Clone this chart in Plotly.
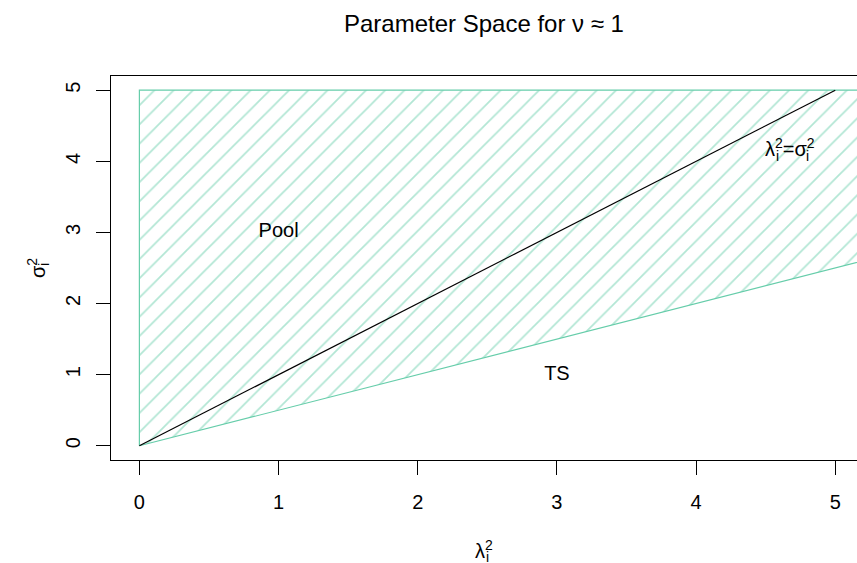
import plotly.graph_objects as go

# ---- data ----
region_x = [0, 0, 6, 6, 0]          # hatched "Pool" region (lambda^2)
region_y = [0, 5, 5, 3, 0]          # sigma^2 >= lambda^2 / 2
diag_x = [0, 5]
diag_y = [0, 5]
labels = ["Pool", "TS"]
label_x = [1, 3]
label_y = [3, 1]
eq_x = 4.48
eq_y = 4.2
tick_vals = [0, 1, 2, 3, 4, 5]
tick_text = ["0", "1", "2", "3", "4", "5"]

GREEN = "#66CDAA"
FONT = "Liberation Sans, Arial, sans-serif"
FS = 20

fig = go.Figure()

fig.add_trace(go.Scatter(
    x=region_x, y=region_y, mode="lines", fill="toself",
    fillcolor="rgba(0,0,0,0)",
    fillpattern=dict(shape="/", fgcolor=GREEN, bgcolor="rgba(0,0,0,0)",
                     size=13.6, solidity=0.13),
    line=dict(color=GREEN, width=1.2), hoverinfo="skip", showlegend=False))

fig.add_trace(go.Scatter(
    x=diag_x, y=diag_y, mode="lines", line=dict(color="black", width=1.2),
    showlegend=False, hoverinfo="skip"))

fig.add_trace(go.Scatter(
    x=label_x, y=label_y, mode="text", text=labels,
    textfont=dict(family=FONT, size=FS, color="black"),
    showlegend=False, hoverinfo="skip"))

ann = []
# equation label  λ_i^2 = σ_i^2 (stacked sub/sup)
ann.append(dict(x=eq_x, y=eq_y, xref="x", yref="y", xanchor="left", yanchor="middle",
                text="λ<sup>2</sup>=σ<sup>2</sup>", showarrow=False,
                font=dict(family=FONT, size=FS, color="black")))
ann.append(dict(x=eq_x, y=eq_y, xref="x", yref="y", xanchor="left", yanchor="middle",
                text="i", showarrow=False, xshift=11, yshift=-9,
                font=dict(family=FONT, size=14, color="black")))
ann.append(dict(x=eq_x, y=eq_y, xref="x", yref="y", xanchor="left", yanchor="middle",
                text="i", showarrow=False, xshift=41, yshift=-9,
                font=dict(family=FONT, size=14, color="black")))

# title
ann.append(dict(x=0.5, y=1, xref="paper", yref="paper", xanchor="center", yanchor="middle",
                yshift=53, text="Parameter Space for ν ≈ 1", showarrow=False,
                font=dict(family=FONT, size=24, color="black")))
# x axis title
ann.append(dict(x=0.5, y=0, xref="paper", yref="paper", xanchor="center", yanchor="middle",
                yshift=-89, text="λ<sup>2</sup>", showarrow=False,
                font=dict(family=FONT, size=FS, color="black")))
ann.append(dict(x=0.5, y=0, xref="paper", yref="paper", xanchor="center", yanchor="middle",
                yshift=-97, xshift=3, text="i", showarrow=False,
                font=dict(family=FONT, size=14, color="black")))
# y axis title (rotated)
ann.append(dict(x=0, y=0.5, xref="paper", yref="paper", xanchor="center", yanchor="middle",
                xshift=-75, text="σ<sup>2</sup>", textangle=-90, showarrow=False,
                font=dict(family=FONT, size=FS, color="black")))
ann.append(dict(x=0, y=0.5, xref="paper", yref="paper", xanchor="center", yanchor="middle",
                xshift=-67, yshift=3, text="i", textangle=-90, showarrow=False,
                font=dict(family=FONT, size=14, color="black")))

fig.update_layout(
    width=857, height=563,
    margin=dict(l=111, r=0, t=76, b=103),
    plot_bgcolor="white", paper_bgcolor="white",
    annotations=ann,
    font=dict(family=FONT, size=FS, color="black"),
    xaxis=dict(range=[-0.204, 5.156], tickvals=tick_vals, ticktext=tick_text,
               ticks="outside", ticklen=14, tickcolor="black", tickwidth=1,
               showline=True, mirror=True, linecolor="black", linewidth=1,
               showgrid=False, zeroline=False, ticklabelstandoff=10,
               tickfont=dict(family=FONT, size=FS, color="black")),
    yaxis=dict(range=[-0.2, 5.2], tickvals=tick_vals, ticktext=tick_text,
               ticks="outside", ticklen=14, tickcolor="black", tickwidth=1,
               showline=True, mirror=False, linecolor="black", linewidth=1,
               showgrid=False, zeroline=False, tickangle=-90, ticklabelstandoff=8,
               tickfont=dict(family=FONT, size=FS, color="black")),
)

fig.write_html("out.html", config={"displayModeBar": False},
               post_script="document.body.style.margin='0px';document.body.style.overflow='hidden';")
